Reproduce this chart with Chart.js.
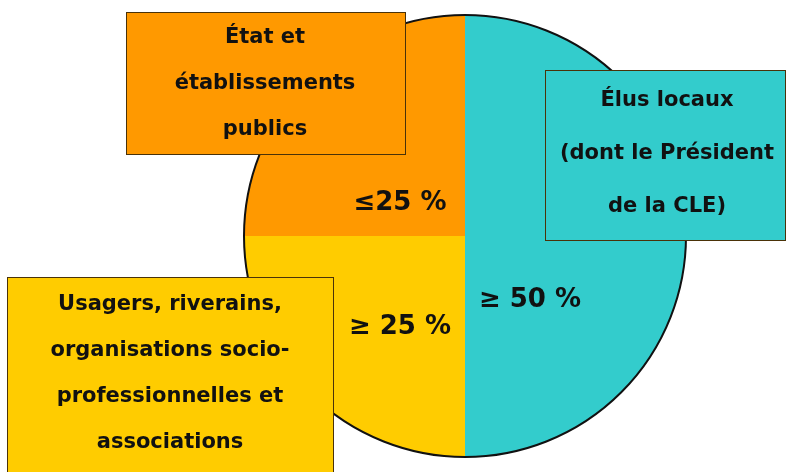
<!DOCTYPE html>
<html>
<head>
<meta charset="utf-8">
<script src="https://cdn.jsdelivr.net/npm/chart.js@4.4.1/dist/chart.umd.min.js"></script>
<style>
  body { margin: 0; background: #ffffff; }
  #wrap { width: 787px; height: 472px; }
</style>
</head>
<body>
<div id="wrap"><canvas id="pie" width="787" height="472"></canvas></div>
<script>
// slice data (clockwise from the top)
const categories = ['Élus locaux (dont le Président de la CLE)', 'Usagers, riverains, organisations socio-professionnelles et associations', 'État et établissements publics'];
const shares = [50, 25, 25];
const shareLabels = ['≥ 50 %', '≥ 25 %', '≤25 %'];
const boxLines = [
    ['Élus locaux', '(dont le Président', 'de la CLE)'],
    ['Usagers, riverains,', 'organisations socio-', 'professionnelles et', 'associations'],
    ['État et', 'établissements', 'publics'],
];
const sliceColors = ['#33CCCC', '#FFCC00', '#FF9900'];

// label boxes: x, y, w, h, first line centre y, line step
const boxLayout = [
    {x: 545, y: 70, w: 240, h: 170, cx: 667, ty: 101, step: 53},
    {x: 7, y: 277, w: 326, h: 210, cx: 170, ty: 305, step: 46},
    {x: 126, y: 12, w: 279, h: 142, cx: 265, ty: 38, step: 46},
];
// share labels, offset from the pie centre
const shareOffsets = [[65, 64], [-65, 91], [-65, -33]];

const boxFont = 'bold 21px "DejaVu Sans"';
const shareFont = 'bold 26px "DejaVu Sans"';

const overlay = {
    id: 'overlay',
    afterDatasetsDraw(c) {
        const ctx = c.ctx;
        const arc = c.getDatasetMeta(0).data[0];
        const cx = arc.x, cy = arc.y, r = arc.outerRadius;

        // outline of the whole pie
        ctx.save();
        ctx.beginPath();
        ctx.arc(cx, cy, r, 0, Math.PI * 2);
        ctx.lineWidth = 2;
        ctx.strokeStyle = '#111111';
        ctx.stroke();

        // share labels
        ctx.fillStyle = '#111111';
        ctx.font = shareFont;
        ctx.textAlign = 'center';
        ctx.textBaseline = 'middle';
        shareLabels.forEach((t, i) => {
            ctx.fillText(t, cx + shareOffsets[i][0], cy + shareOffsets[i][1]);
        });

        // category boxes
        boxLayout.forEach((b, i) => {
            ctx.fillStyle = sliceColors[i];
            ctx.fillRect(b.x, b.y, b.w, b.h);
            ctx.lineWidth = 1;
            ctx.strokeStyle = '#4a3208';
            ctx.strokeRect(b.x + 0.5, b.y + 0.5, b.w, b.h);
            ctx.fillStyle = '#111111';
            ctx.font = boxFont;
            boxLines[i].forEach((line, j) => {
                ctx.fillText(line, b.cx, b.ty + j * b.step);
            });
        });
        ctx.restore();
    }
};

new Chart(document.getElementById('pie'), {
    type: 'pie',
    data: {
        labels: categories,
        datasets: [{
            data: shares,
            backgroundColor: sliceColors,
            borderWidth: 0,
        }],
    },
    options: {
        responsive: false,
        animation: false,
        layout: {
            padding: {left: 143, right: 0, top: 15, bottom: 15},
        },
        plugins: {
            legend: {display: false},
            tooltip: {enabled: false},
        },
    },
    plugins: [overlay],
});
</script>
</body>
</html>
